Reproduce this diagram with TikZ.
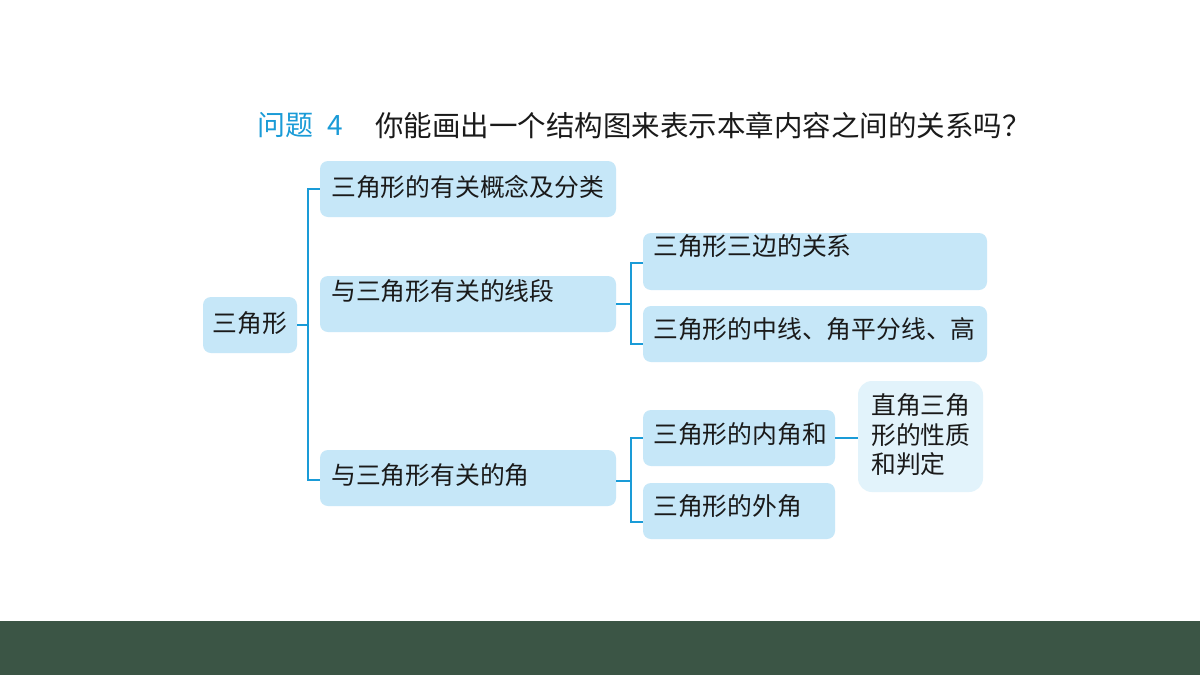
\documentclass[tikz,border=0pt]{standalone}
\usepackage{fontspec}
\newfontfamily\cjk{Noto Sans CJK SC}
\definecolor{linec}{HTML}{1A9BD7}
\definecolor{boxc}{HTML}{C6E7F8}
\definecolor{boxd}{HTML}{E2F3FB}
\definecolor{band}{HTML}{3B5545}
\definecolor{txt}{HTML}{1A1A1A}
\begin{document}
\begin{tikzpicture}[x=1pt,y=-1pt,
  box/.style={fill=boxc, rounded corners=8pt, inner sep=0pt, draw=none},
  lbl/.style={font=\cjk\fontsize{24.8}{29.5}\selectfont, text=txt, inner sep=0pt, anchor=west},
  conn/.style={draw=linec, line width=2pt}]
\useasboundingbox (0,0) rectangle (1200,675);
\fill[white] (0,0) rectangle (1200,675);
\fill[band] (0,620.5) rectangle (1200,675);
% title
\node[font=\cjk\fontsize{28}{32}\selectfont, text=linec, inner sep=0pt, anchor=west] (t1) at (257,125) {问题\hspace{14pt}4};
\node[font=\cjk\fontsize{28.5}{32}\selectfont, text=txt, inner sep=0pt, anchor=west] (t2) at (375,125) {你能画出一个结构图来表示本章内容之间的关系吗？};
% boxes
\node[box, minimum width=94pt, minimum height=56pt] (root) at (250,325) {};
\node[box, minimum width=296pt, minimum height=56pt] (A) at (468,189) {};
\node[box, minimum width=296pt, minimum height=56pt] (B) at (468,304) {};
\node[box, minimum width=296pt, minimum height=56pt] (C) at (468,478) {};
\node[box, minimum width=344pt, minimum height=57pt] (B1) at (815,261.5) {};
\node[box, minimum width=344pt, minimum height=56pt] (B2) at (815,334) {};
\node[box, minimum width=192pt, minimum height=56pt] (C1) at (739,438) {};
\node[box, minimum width=192pt, minimum height=56pt] (C2) at (739,511) {};
\node[box, fill=boxd, rounded corners=14pt, minimum width=125pt, minimum height=111pt] (D) at (920.5,436.5) {};
% labels
\node[lbl, anchor=center] (lroot) at (250,323) {三角形};
\node[lbl] (lA) at (331,187) {三角形的有关概念及分类};
\node[lbl] (lB) at (331,291) {与三角形有关的线段};
\node[lbl] (lC) at (331,475) {与三角形有关的角};
\node[lbl] (lB1) at (653,246) {三角形三边的关系};
\node[lbl] (lB2) at (653,329) {三角形的中线、角平分线、高};
\node[lbl] (lC1) at (653,434) {三角形的内角和};
\node[lbl] (lC2) at (653,506) {三角形的外角};
\node[lbl, align=left] (lD) at (871,435) {直角三角\\形的性质\\和判定};
% connectors
\coordinate (j1) at (308,325);
\coordinate (j2) at (631,304);
\coordinate (j3) at (631,481);
\draw[conn] (root.east) -- (j1);
\draw[conn] (A.west) -| (j1) |- ([yshift=-2pt]C.west);
\draw[conn] (B.east) -- (j2);
\draw[conn] ([yshift=-1.5pt]B1.west) -| (j2) |- ([yshift=-10pt]B2.west);
\draw[conn] ([yshift=-3pt]C.east) -- (j3);
\draw[conn] (C1.west) -| (j3) |- ([yshift=-11pt]C2.west);
\draw[conn] (C1.east) -- (C1.east -| D.west);
\end{tikzpicture}
\end{document}
